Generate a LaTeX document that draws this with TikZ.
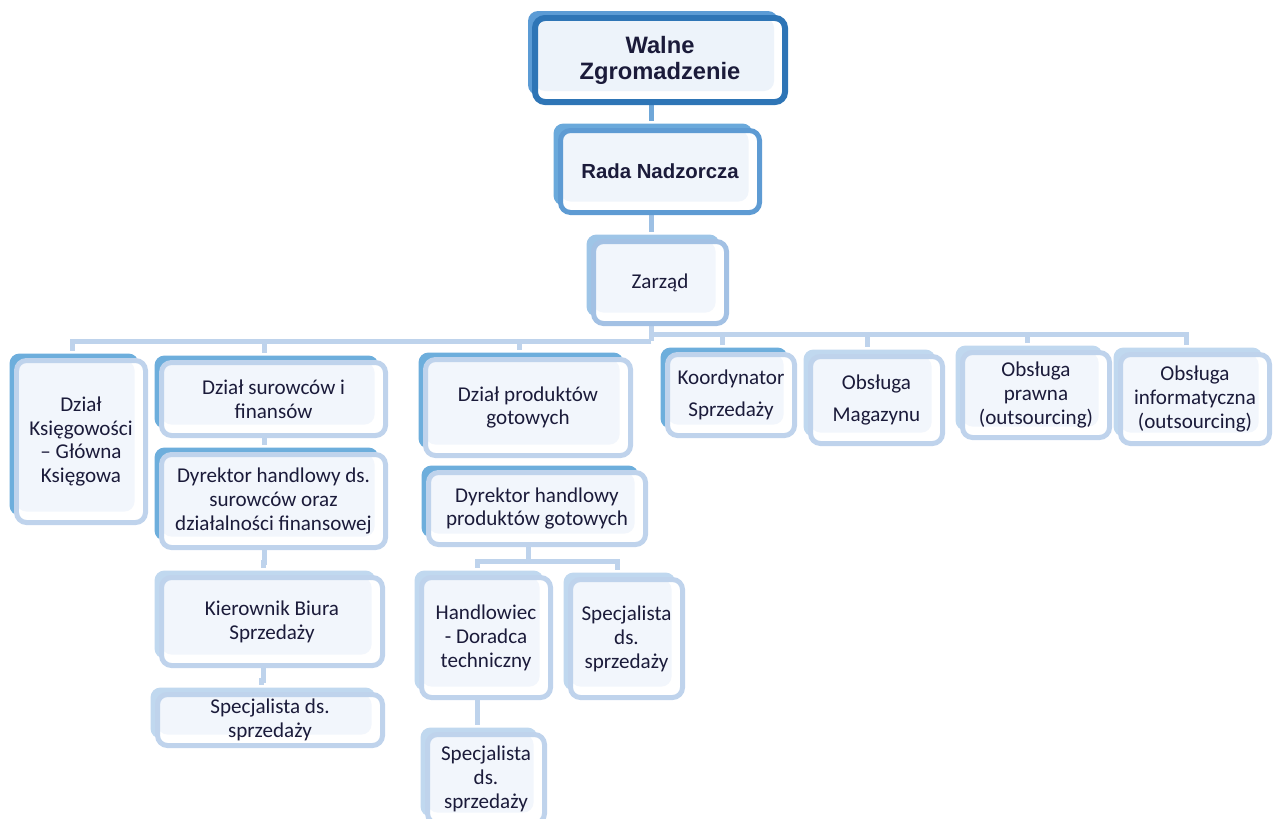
\documentclass[tikz,border=0pt]{standalone}
\usepackage{fontspec}
\setmainfont{Carlito}
\newfontfamily\headfont{Liberation Sans}
\usetikzlibrary{shadows,backgrounds}
\definecolor{inkcol}{HTML}{1B1B3A}
\definecolor{topline}{HTML}{2E75B6}
\definecolor{topback}{HTML}{5B9BD5}
\definecolor{topfill}{HTML}{EDF3FA}
\definecolor{radaline}{HTML}{5E9BD3}
\definecolor{radaback}{HTML}{6AA9DB}
\definecolor{radafill}{HTML}{F0F5FB}
\definecolor{zarline}{HTML}{A3C1E4}
\definecolor{zarback}{HTML}{9EC5E7}
\definecolor{lowline}{HTML}{BFD3EC}
\definecolor{lowfill}{HTML}{F2F6FC}
\definecolor{darkback}{HTML}{6DAEDC}
\definecolor{lightback}{HTML}{C0D8EF}
\definecolor{lineone}{HTML}{6FA7D8}
\definecolor{linetwo}{HTML}{9DC0E4}
\definecolor{linethree}{HTML}{BED3EC}
\begin{document}
\begin{tikzpicture}[x=0.02cm, y=-0.02cm,
    boxstyle/.style={rectangle, rounded corners=0.2cm, line width=0.1cm, fill=white, align=center, inner sep=0pt, text=inkcol, font=\fontsize{12}{13.6}\selectfont},
    sizestyle/.style 2 args={minimum width=#1*0.02cm, minimum height=#2*0.02cm},
    backstyle/.style={copy shadow={draw=none, fill=#1, shadow xshift=-0.14cm, shadow yshift=0.14cm}},
    innerstyle/.style={path picture={\fill[#1] (path picture bounding box.north west) rectangle ([xshift=-0.22cm, yshift=0.22cm]path picture bounding box.south east);}},
    lowstyle/.style={boxstyle, draw=lowline, innerstyle=lowfill, backstyle=#1},
    linestyle/.style={line width=0.1cm, draw=#1}
]
    \useasboundingbox (0,0) rectangle (1274,818);

    % top of the chart
    \node[boxstyle, font=\headfont\bfseries\fontsize{13.5}{14.8}\selectfont, draw=topline, line width=0.12cm, innerstyle=topfill, backstyle=topback, sizestyle={250}{84}] (walne) at (660,60) {Walne\\Zgromadzenie};
    \node[boxstyle, font=\headfont\bfseries\fontsize{11.6}{13.6}\selectfont, draw=radaline, innerstyle=radafill, backstyle=radaback, sizestyle={199}{82}] (rada) at (660,171.5) {Rada Nadzorcza};
    \node[boxstyle, draw=zarline, innerstyle=lowfill, backstyle=zarback, sizestyle={133}{82}] (zarzad) at (660,282.5) {Zarząd};

    % left branch
    \node[lowstyle=darkback, sizestyle={129}{162}] (ksieg) at (81,441.5) {Dział\\Księgowości\\– Główna\\Księgowa};
    \node[lowstyle=darkback, sizestyle={224}{73}] (surow) at (273.5,399) {Dział surowców i\\finansów};
    \node[lowstyle=darkback, sizestyle={224}{93}] (dyrsur) at (273.5,501) {Dyrektor handlowy ds.\\surowców oraz\\działalności finansowej};
    \node[lowstyle=lightback, sizestyle={221}{88}] (kier) at (272,621.5) {Kierownik Biura\\Sprzedaży};
    \node[lowstyle=lightback, sizestyle={225}{51}] (specA) at (270,720) {Specjalista ds.\\sprzedaży};

    % middle branch
    \node[lowstyle=darkback, sizestyle={205}{96}] (dzprod) at (528,407.5) {Dział produktów\\gotowych};
    \node[lowstyle=darkback, sizestyle={217}{72}] (dyrprod) at (537,508.5) {Dyrektor handlowy\\produktów gotowych};
    \node[lowstyle=lightback, sizestyle={129}{120}] (handl) at (486,637.5) {Handlowiec\\- Doradca\\techniczny};
    \node[lowstyle=lightback, sizestyle={112}{118}] (specB) at (626.5,638.5) {Specjalista\\ds.\\sprzedaży};
    \node[lowstyle=lightback, sizestyle={117}{89}] (specC) at (486,779) {Specjalista\\ds.\\sprzedaży};

    % right row
    \node[lowstyle=darkback, sizestyle={127}{81}] (koord) at (731,395) {Koordynator\\[4.5pt]Sprzedaży};
    \node[lowstyle=lightback, sizestyle={132}{87}] (magaz) at (876.5,400) {Obsługa\\[4.5pt]Magazynu};
    \node[lowstyle=lightback, sizestyle={147}{85}] (prawna) at (1036,395) {Obsługa\\prawna\\(outsourcing)};
    \node[lowstyle=lightback, sizestyle={149}{89}] (inform) at (1195,399) {Obsługa\\informatyczna\\(outsourcing)};

    \begin{pgfonlayer}{background}
        \draw[linestyle=lineone] ([xshift=-0.18cm]walne.south) -- ([xshift=-0.18cm, yshift=0.14cm]rada.north);
        \draw[linestyle=linetwo] ([xshift=-0.18cm]rada.south) -- ([xshift=-0.18cm, yshift=0.14cm]zarzad.north);
        \draw[linestyle=linethree] ([xshift=-0.18cm]zarzad.south) -- ++(0,15) coordinate (busL) ++(0,-7) coordinate (busR);
        \foreach \c in {ksieg,surow,dzprod}
            \draw[linestyle=linethree] (busL) -| ([xshift=-0.18cm, yshift=0.14cm]\c.north);
        \foreach \c in {koord,magaz,prawna,inform}
            \draw[linestyle=linethree] (busR) -| ([xshift=-0.18cm, yshift=0.14cm]\c.north);
        \draw[linestyle=linethree] ([xshift=-0.18cm]surow.south) -- ([xshift=-0.18cm, yshift=0.14cm]dyrsur.north);
        \draw[linestyle=linethree] ([xshift=-0.18cm]dyrsur.south) -- ++(0,12) -| ([xshift=-0.18cm, yshift=0.14cm]kier.north);
        \draw[linestyle=linethree] ([xshift=-0.18cm]kier.south) -- ++(0,12) -| ([xshift=-0.18cm, yshift=0.14cm]specA.north);
        \draw[linestyle=linethree] ([xshift=-0.18cm]dyrprod.south) -- ++(0,14) coordinate (busP);
        \foreach \c in {handl,specB}
            \draw[linestyle=linethree] (busP) -| ([xshift=-0.18cm, yshift=0.14cm]\c.north);
        \draw[linestyle=linethree] ([xshift=-0.18cm]handl.south) -- ([xshift=-0.18cm, yshift=0.14cm]specC.north);
    \end{pgfonlayer}
\end{tikzpicture}
\end{document}
